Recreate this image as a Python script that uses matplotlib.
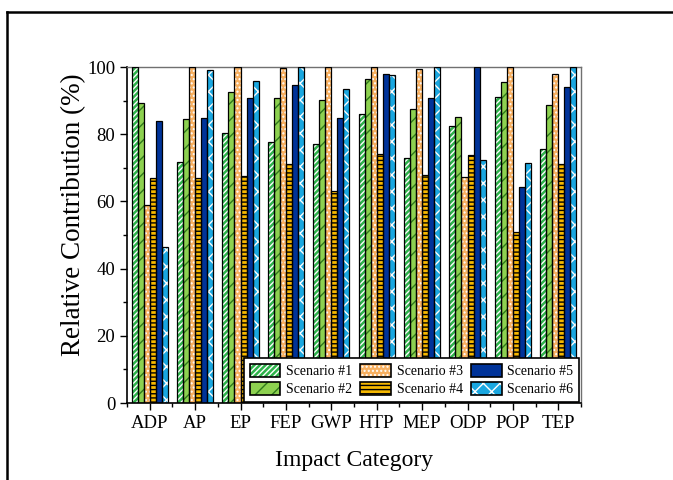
'''
Import libraries
'''
import numpy as np
import matplotlib.pyplot as plt
from matplotlib.patches import Patch
from matplotlib.lines import Line2D
from matplotlib.ticker import MultipleLocator
from matplotlib.legend_handler import HandlerTuple
'''
Data read off the figure
'''
categories = ['ADP', 'AP', 'EP', 'FEP', 'GWP', 'HTP', 'MEP', 'ODP', 'POP', 'TEP']
scenario_names = ['Scenario #1', 'Scenario #2', 'Scenario #3', 'Scenario #4', 'Scenario #5', 'Scenario #6']
s1 = [100.0, 71.7, 80.3, 77.6, 77.0, 85.9, 72.8, 82.4, 91.0, 75.5]
s2 = [89.2, 84.5, 92.5, 90.8, 90.1, 96.3, 87.4, 85.0, 95.5, 88.7]
s3 = [58.9, 100.0, 100.0, 99.6, 100.0, 100.0, 99.3, 67.3, 100.0, 97.8]
s4 = [66.9, 66.9, 67.6, 71.0, 63.0, 74.2, 68.0, 73.7, 50.8, 71.0]
s5 = [84.0, 84.8, 90.8, 94.5, 84.7, 98.0, 90.8, 100.0, 64.4, 94.1]
s6 = [46.5, 99.0, 95.9, 100.0, 93.4, 97.7, 100.0, 72.3, 71.4, 100.0]
'''
Styles: (face colour, hatch, hatch colour)
'''
styles = [('#2db34a', '//////', 'white'),
          ('#8dd150', '//', '#2f7a1c'),
          ('#f8b060', '....', 'white'),
          ('#f6b800', '----', 'black'),
          ('#003399', '', '#003399'),
          ('#1aa7e0', 'xx', 'white')]

plt.rcParams['font.family'] = ['Liberation Serif', 'DejaVu Serif']
plt.rcParams['hatch.linewidth'] = 1.0

fig = plt.figure(figsize=(6.73, 4.80), dpi=100)
ax = fig.add_axes([127/673, 1-403/480, 454/673, 336/480])

x = np.arange(len(categories))
width = 0.8/6
handles = []
for i, vals in enumerate([s1, s2, s3, s4, s5, s6]):
    fc, hatch, hc = styles[i]
    pos = x - 0.4 + width*(i + 0.5)
    # hatch layer, then black outline on top
    ax.bar(pos, vals, width, color=fc, hatch=hatch, edgecolor=hc, linewidth=0, zorder=2)
    ax.bar(pos, vals, width, fill=False, edgecolor='black', linewidth=0.9, zorder=3)
    handles.append((Patch(facecolor=fc, hatch=hatch, edgecolor=hc, linewidth=0),
                    Patch(fill=False, edgecolor='black', linewidth=1.2)))
'''
Axes formatting
'''
ax.set_xlim(-0.5, len(categories) - 0.5)
ax.set_ylim(0, 100)
ax.set_xticks(x)
ax.set_xticklabels(categories)
ax.xaxis.set_minor_locator(MultipleLocator(0.5))
ax.yaxis.set_major_locator(MultipleLocator(20))
ax.yaxis.set_minor_locator(MultipleLocator(10))
ax.tick_params(axis='both', which='major', direction='out', length=5, width=1, labelsize=13.5, colors='black')
ax.tick_params(axis='both', which='minor', direction='out', length=3, width=1)
for side in ['left', 'bottom']:
    ax.spines[side].set_linewidth(1.2)
for side in ['top', 'right']:
    ax.spines[side].set_color('#707070')
    ax.spines[side].set_linewidth(1.0)
ax.set_xlabel('Impact Category', fontsize=17, labelpad=13)
ax.set_ylabel('Relative Contribution (%)', fontsize=19.5)
ax.yaxis.set_label_coords(-0.09, 0.56)

leg = ax.legend(handles, scenario_names, ncol=3, loc='lower right', bbox_to_anchor=(0.995, 0.003),
                borderaxespad=0, fontsize=10, fancybox=False, framealpha=1, edgecolor='black',
                handlelength=2.2, handleheight=1.05, columnspacing=0.6, handletextpad=0.4,
                labelspacing=0.3, borderpad=0.4, handler_map={tuple: HandlerTuple(ndivide=1, pad=0)})
leg.get_frame().set_linewidth(1.2)
leg.set_zorder(5)
'''
Outer frame
'''
fig.add_artist(Line2D([7/673, 1.0], [1-12/480, 1-12/480], color='black', linewidth=1.8, transform=fig.transFigure))
fig.add_artist(Line2D([7/673, 7/673], [0.0, 1-12/480], color='black', linewidth=1.8, transform=fig.transFigure))

fig.savefig('out.png', dpi=100)
